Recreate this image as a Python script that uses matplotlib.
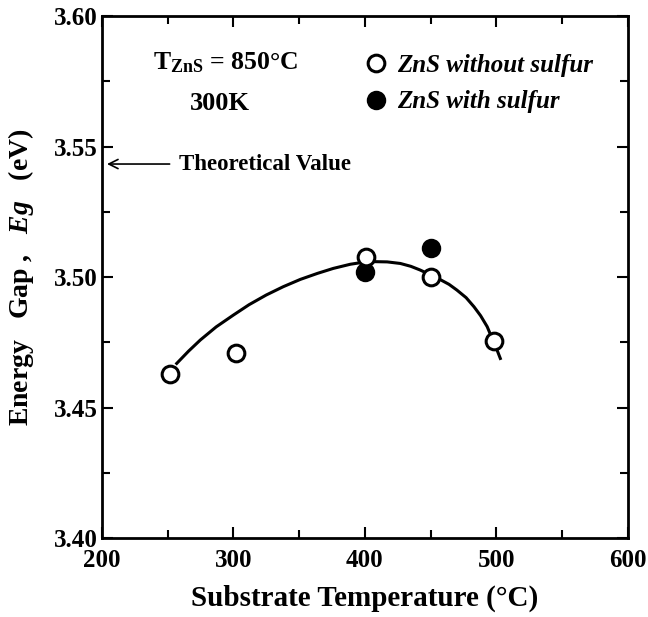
import matplotlib
matplotlib.use("Agg")
import matplotlib.pyplot as plt
from matplotlib.ticker import MultipleLocator

plt.rcParams['font.family'] = ['Liberation Serif', 'DejaVu Serif']
plt.rcParams['font.weight'] = 'bold'
plt.rcParams['mathtext.fontset'] = 'custom'
plt.rcParams['mathtext.rm'] = 'Liberation Serif:bold'
plt.rcParams['mathtext.it'] = 'Liberation Serif:italic:bold'

# data
temp_open = [252, 302, 401, 450, 498]
eg_open = [3.463, 3.471, 3.5075, 3.5001, 3.4755]
temp_filled = [400, 450]
eg_filled = [3.5018, 3.5110]

# hand-drawn guide curve
curve_t = [257, 266, 275, 287, 300, 312, 325, 338, 351, 364, 376, 389, 398, 407,
           417, 427, 435, 442, 450, 457, 464, 470, 477, 483, 488, 493, 497, 500, 503]
curve_eg = [3.4669, 3.4716, 3.4759, 3.4809, 3.4854, 3.4894, 3.4931, 3.4963, 3.4991,
            3.5014, 3.5033, 3.5049, 3.5056, 3.5059, 3.5058, 3.5052, 3.5041, 3.5027,
            3.5008, 3.4991, 3.4972, 3.4950, 3.4921, 3.4886, 3.4852, 3.4810, 3.4762,
            3.4727, 3.4688]

theory_eg = 3.5433
x_ticks = [200, 300, 400, 500, 600]
y_ticks = [3.40, 3.45, 3.50, 3.55, 3.60]

fig = plt.figure(figsize=(6.48, 6.17), dpi=100)
ax = fig.add_axes([0.157, 0.128, 0.812, 0.846])

ax.plot(curve_t, curve_eg, color='black', lw=2.2, zorder=2)
ax.plot(temp_filled, eg_filled, 'o', color='black', ms=12, mew=2,
        label='ZnS with sulfur', zorder=3)
ax.plot(temp_open, eg_open, 'o', mfc='white', mec='black', ms=12, mew=2.2,
        label='ZnS without sulfur', zorder=4)

ax.set_xlim(200, 600)
ax.set_ylim(3.40, 3.60)
ax.set_xticks(x_ticks)
ax.set_yticks(y_ticks)
ax.set_xticklabels([str(t) for t in x_ticks])
ax.set_yticklabels([f'{v:.2f}' for v in y_ticks])
ax.xaxis.set_minor_locator(MultipleLocator(50))
ax.yaxis.set_minor_locator(MultipleLocator(0.025))
ax.tick_params(which='both', direction='in', top=True, right=True, width=1.5,
               labelsize=18)
ax.tick_params(which='major', length=8)
ax.tick_params(which='minor', length=6)
ax.tick_params(axis='x', pad=8)
ax.tick_params(axis='y', pad=3)
for s in ax.spines.values():
    s.set_linewidth(2)

ax.set_xlabel('Substrate Temperature (°C)', fontsize=21, fontweight='bold', labelpad=9)
ax.set_ylabel(r'Energy   Gap ,   $\mathit{Eg}$   (eV)', fontsize=20, fontweight='bold')
ax.yaxis.set_label_coords(-0.124, 0.5)

ax.text(0.097, 0.91, r'T$_{\mathrm{ZnS}}$ = 850°C', transform=ax.transAxes,
        fontsize=18.5, fontweight='bold', va='center', ha='left')
ax.text(0.167, 0.833, '300K', transform=ax.transAxes,
        fontsize=19, fontweight='bold', va='center', ha='left')

ax.annotate('Theoretical Value', xy=(204, theory_eg), xytext=(259, theory_eg),
            fontsize=16.5, fontweight='bold', va='center', ha='left',
            arrowprops=dict(arrowstyle='->', color='black', lw=1.2,
                            shrinkA=5, shrinkB=0))

handles, labels = ax.get_legend_handles_labels()
leg = ax.legend(handles[::-1], labels[::-1], loc='upper left',
                bbox_to_anchor=(0.48, 0.947), frameon=False, handlelength=0.9,
                handletextpad=0.4, labelspacing=0.55, borderaxespad=0,
                prop={'family': 'Liberation Serif', 'style': 'italic',
                      'weight': 'bold', 'size': 18})

fig.savefig('out.png', dpi=100)
